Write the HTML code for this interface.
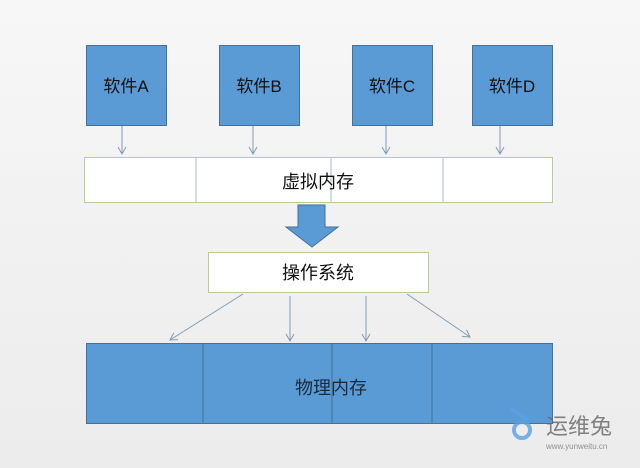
<!DOCTYPE html>
<html><head><meta charset="utf-8"><style>
body{margin:0;width:640px;height:468px;overflow:hidden;background:linear-gradient(#f7f7f7,#f0f0f0 60%,#ececec);font-family:"Liberation Sans","Noto Sans CJK SC",sans-serif}
</style></head><body>
<svg width="640" height="468" xmlns="http://www.w3.org/2000/svg" style="position:absolute;left:0;top:0">
<defs><marker id="a" markerWidth="10" markerHeight="10" refX="8" refY="5" orient="auto" markerUnits="userSpaceOnUse"><path d="M1,1 L8,5 L1,9" fill="none" stroke="#7f9db5" stroke-width="1"/></marker></defs>
<g fill="#5b9bd5" stroke="#41719c" stroke-width="1">
<rect x="86.5" y="45.5" width="80" height="80"/>
<rect x="219.5" y="45.5" width="80" height="80"/>
<rect x="352.5" y="45.5" width="80" height="80"/>
<rect x="472.5" y="45.5" width="80" height="80"/>
</g>
<g font-size="17" fill="#111" text-anchor="middle">
<text x="126" y="92">软件A</text><text x="259" y="92">软件B</text><text x="392" y="92">软件C</text><text x="512" y="92">软件D</text>
</g>
<g stroke="#7f9db5" stroke-width="1" marker-end="url(#a)">
<line x1="122" y1="126" x2="122" y2="154"/><line x1="253" y1="126" x2="253" y2="154"/><line x1="386" y1="126" x2="386" y2="154"/><line x1="500" y1="126" x2="500" y2="154"/>
<line x1="243" y1="294" x2="170" y2="340"/><line x1="290" y1="296" x2="290" y2="341"/><line x1="366" y1="296" x2="366" y2="341"/><line x1="407" y1="294" x2="470" y2="337"/>
</g>
<rect x="84.5" y="157.5" width="468" height="45" fill="#fff" stroke="#b7cc9a"/>
<g stroke="#a9b8c4"><line x1="196" y1="158" x2="196" y2="202"/><line x1="331" y1="158" x2="331" y2="202"/><line x1="443" y1="158" x2="443" y2="202"/></g>
<text x="318" y="188" font-size="18" text-anchor="middle" fill="#111">虚拟内存</text>
<path d="M298,205 H325 V227 H338 L312,247 L286,227 H298 Z" fill="#5b9bd5" stroke="#41719c"/>
<rect x="208.5" y="252.5" width="220" height="40" fill="#fff" stroke="#b7cc9a"/>
<text x="318" y="279" font-size="18" text-anchor="middle" fill="#111">操作系统</text>
<rect x="86.5" y="343.5" width="466" height="80" fill="#5b9bd5" stroke="#41719c"/>
<g stroke="#41719c"><line x1="203" y1="344" x2="203" y2="423"/><line x1="332" y1="344" x2="332" y2="423"/><line x1="432" y1="344" x2="432" y2="423"/></g>
<text x="331" y="394" font-size="18" text-anchor="middle" fill="#1a2a3a">物理内存</text>
<g opacity="0.8">
<circle cx="522" cy="430" r="8" fill="none" stroke="#5aa0e6" stroke-width="4"/>
<path d="M510,408 L528,420" stroke="#5aa0e6" stroke-width="4"/>
<text x="546" y="434" font-size="22" fill="#666">运维兔</text>
<text x="546" y="449" font-size="8" fill="#777">www.yunweitu.cn</text>
</g>
</svg>
</body></html>
